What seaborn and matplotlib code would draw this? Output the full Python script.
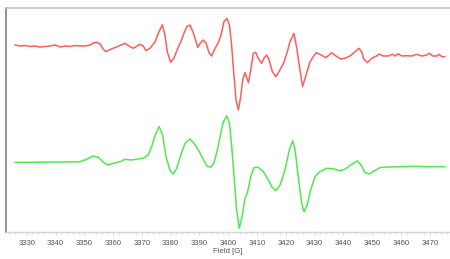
import matplotlib
matplotlib.use("Agg")
import matplotlib.pyplot as plt
from matplotlib.ticker import MultipleLocator
import seaborn as sns
import pandas as pd

# ---- data (field in G, intensity in arbitrary units relative to baseline) ----
red_field = [3325.9, 3327.7, 3329.4, 3331.2, 3332.9, 3334.6, 3336.4, 3338.1, 3339.8, 3341.6,
             3343.3, 3345.0, 3346.8, 3348.5, 3350.2, 3352.0, 3353.0, 3354.4, 3355.5, 3356.5,
             3357.5, 3358.9, 3360.7, 3362.4, 3364.1, 3365.9, 3367.0, 3369.3, 3370.5, 3371.4,
             3372.8, 3374.6, 3375.7, 3377.1, 3378.0, 3378.8, 3380.0, 3381.1, 3382.3, 3383.5,
             3384.6, 3385.6, 3386.7, 3387.9, 3389.4, 3390.4, 3391.3, 3392.3, 3393.3, 3394.2,
             3395.4, 3396.5, 3397.5, 3398.5, 3399.5, 3400.4, 3401.2, 3402.0, 3402.7, 3403.5,
             3404.3, 3405.0, 3405.8, 3407.0, 3407.8, 3408.7, 3409.5, 3410.4, 3411.6, 3412.4,
             3413.3, 3414.1, 3415.3, 3416.5, 3417.6, 3419.3, 3420.5, 3421.4, 3422.0, 3422.8,
             3423.7, 3424.9, 3425.8, 3427.0, 3428.4, 3429.5, 3430.5, 3431.8, 3433.9, 3435.9,
             3437.4, 3439.0, 3440.5, 3442.3, 3444.0, 3445.4, 3446.3, 3447.1, 3448.3, 3449.8,
             3451.5, 3452.4, 3453.8, 3455.6, 3457.1, 3457.9, 3459.0, 3460.2, 3461.9, 3463.7,
             3465.4, 3467.2, 3468.9, 3469.8, 3471.0, 3472.4, 3473.3, 3474.1, 3475.2]
red_signal = [1.0, 0.0, 0.5, -0.5, 0.0, -1.0, -0.5, 0.0, 1.0, -1.0,
              0.0, -0.5, 0.5, 0.0, 0.0, 1.0, 3.0, 3.7, 2.0, -3.0,
              -5.7, -3.5, -1.5, 0.5, 2.7, -0.7, -2.3, 1.7, 0.0, -4.7,
              -2.3, 4.3, 12.7, 21.3, 11.0, -5.7, -16.3, -12.3, -3.3, 4.3,
              12.7, 19.3, 21.0, 12.7, -1.3, 3.3, 6.0, 2.7, -6.7, -10.0,
              -2.3, 3.3, 11.0, 24.3, 27.7, 21.0, -0.7, -30.7, -54.0, -64.0,
              -50.7, -34.0, -26.7, -36.7, -24.0, -7.3, -6.3, -12.3, -17.3, -12.3,
              -9.0, -13.3, -25.7, -30.7, -25.7, -16.5, -5.7, 4.3, 7.7, 12.7,
              -0.7, -24.0, -40.7, -29.0, -15.7, -10.7, -6.7, -8.3, -11.7, -6.7,
              -10.0, -13.0, -12.3, -10.0, -5.7, -2.3, -5.7, -13.3, -16.7, -12.3,
              -10.0, -8.0, -10.0, -10.0, -8.3, -10.0, -7.7, -10.0, -9.7, -10.0,
              -8.3, -10.0, -9.0, -7.3, -10.0, -10.0, -8.3, -10.7, -10.7]

green_field = [3325.9, 3332.3, 3338.1, 3343.9, 3348.5, 3350.8, 3353.1, 3354.9, 3356.6, 3358.0,
               3360.1, 3362.4, 3364.1, 3366.1, 3368.2, 3370.5, 3372.2, 3373.4, 3374.6, 3376.0,
               3377.2, 3378.4, 3379.8, 3380.9, 3382.1, 3383.5, 3385.0, 3386.7, 3388.1, 3389.6,
               3391.1, 3392.5, 3393.9, 3395.0, 3396.2, 3397.4, 3398.3, 3399.5, 3400.4, 3401.2,
               3402.0, 3402.9, 3403.8, 3404.8, 3405.8, 3406.6, 3407.8, 3408.9, 3410.4, 3412.2,
               3413.9, 3415.1, 3416.5, 3418.0, 3419.7, 3421.2, 3422.4, 3423.2, 3424.3, 3425.5,
               3426.3, 3427.4, 3428.6, 3430.1, 3431.8, 3434.2, 3436.5, 3438.5, 3440.5, 3442.9,
               3444.8, 3446.1, 3447.5, 3449.0, 3450.6, 3452.9, 3456.2, 3459.6, 3464.2, 3468.9,
               3472.4, 3475.2]
green_signal = [-0.3, -0.3, 0.0, 0.0, 0.3, 2.7, 6.0, 4.7, -0.3, -3.0,
                -1.3, 0.3, 2.7, 2.0, 2.7, 4.0, 7.0, 15.3, 27.0, 35.3,
                27.0, 5.3, -8.7, -12.0, -6.3, 7.0, 18.7, 23.0, 18.7, 12.0,
                3.7, -4.0, -5.3, -1.3, 12.0, 28.7, 40.3, 46.0, 38.7, 15.3,
                -14.7, -48.0, -66.3, -54.7, -36.3, -31.3, -14.7, -5.7, -5.3, -9.7,
                -18.0, -24.7, -28.7, -23.0, -8.0, 12.0, 21.3, 12.0, -14.7, -41.3,
                -49.7, -43.0, -28.0, -14.7, -9.7, -6.3, -6.7, -8.7, -7.3, -2.3,
                1.0, -3.0, -10.7, -12.0, -9.0, -5.3, -5.0, -4.7, -4.3, -4.7,
                -4.7, -4.7]

x_ticks = list(range(3330, 3471, 10))
x_label = "Field [G]"

# ---- plotting ----
sns.set_style("white")
plt.rcParams["font.family"] = ["Liberation Sans", "DejaVu Sans"]

red_offset = 186
green_offset = 70

df_red = pd.DataFrame({"field": red_field, "signal": [v + red_offset for v in red_signal]})
df_green = pd.DataFrame({"field": green_field, "signal": [v + green_offset for v in green_signal]})

fig = plt.figure(figsize=(4.5, 2.59), dpi=100)
ax = fig.add_axes([6 / 450, 1 - 232 / 259, 1 - 6 / 450, (232 - 8) / 259])

sns.lineplot(data=df_red, x="field", y="signal", ax=ax, color="#ff5c5c",
             linewidth=1.1, sort=False, estimator=None)
sns.lineplot(data=df_green, x="field", y="signal", ax=ax, color="#4fe84f",
             linewidth=1.1, sort=False, estimator=None)

ax.set_xlim(3322.8, 3477.0)
ax.set_ylim(0, 224)
ax.set_xticks(x_ticks)
ax.set_xticklabels([str(t) for t in x_ticks])
ax.xaxis.set_minor_locator(MultipleLocator(2))
ax.set_yticks([])
ax.set_ylabel("")
ax.set_xlabel(x_label, fontsize=5.6, color="#555555", labelpad=0.8)

ax.tick_params(axis="x", which="major", direction="out", length=2.4, width=0.6,
               color="#c8c8c8", labelsize=5.6, labelcolor="#555555", pad=3.5, bottom=True)
ax.tick_params(axis="x", which="minor", direction="out", length=1.5, width=0.5,
               color="#c8c8c8", bottom=True)

ax.spines["right"].set_visible(False)
ax.spines["top"].set_color("#c4c4c4")
ax.spines["top"].set_linewidth(1.2)
ax.spines["bottom"].set_color("#d6d6d6")
ax.spines["bottom"].set_linewidth(1.0)
ax.spines["left"].set_color("#8a8a8a")
ax.spines["left"].set_linewidth(1.3)

fig.savefig("out.png", dpi=100)
